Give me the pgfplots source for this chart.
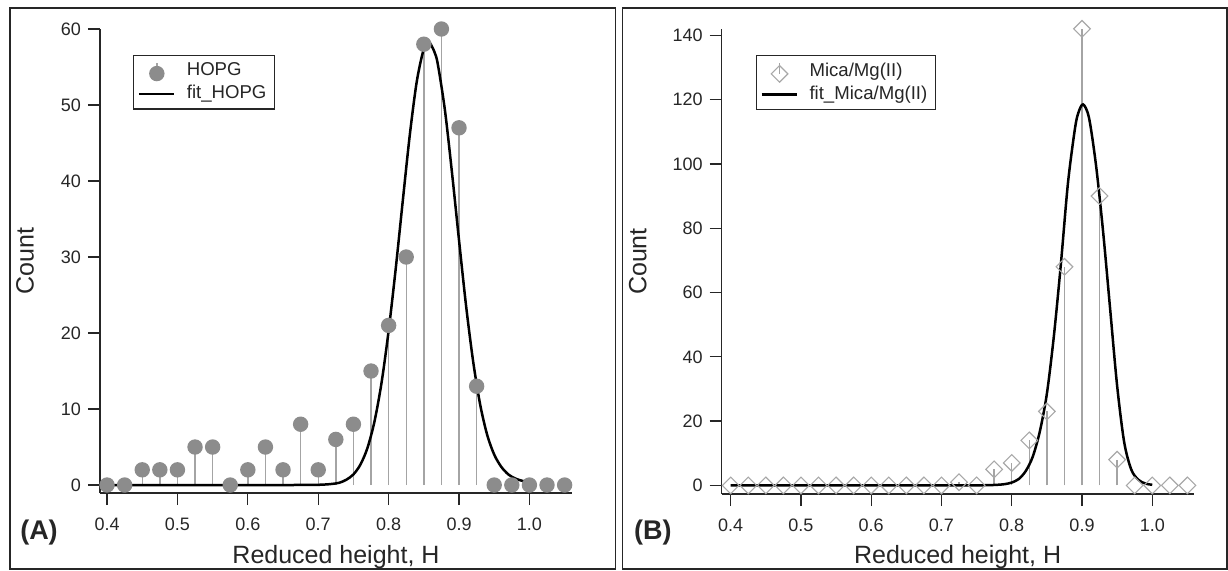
\documentclass[border=0pt]{standalone}
\usepackage{fontspec}
\setmainfont{Liberation Sans}
\usepackage{pgfplots}
\usepackage{pgfplotstable}
\pgfplotsset{compat=1.18}

\definecolor{dotgray}{HTML}{8C8C8C}
\definecolor{stemgray}{HTML}{A4A4A4}
\definecolor{diagray}{HTML}{A8A8A8}
\definecolor{axgray}{HTML}{262626}

% histogram counts, bins of 0.025
\pgfplotstableread{
h count
0.400 0
0.425 0
0.450 2
0.475 2
0.500 2
0.525 5
0.550 5
0.575 0
0.600 2
0.625 5
0.650 2
0.675 8
0.700 2
0.725 6
0.750 8
0.775 15
0.800 21
0.825 30
0.850 58
0.875 60
0.900 47
0.925 13
0.950 0
0.975 0
1.000 0
1.025 0
1.050 0
}\hopg

\pgfplotstableread{
h count
0.400 0
0.425 0
0.450 0
0.475 0
0.500 0
0.525 0
0.550 0
0.575 0
0.600 0
0.625 0
0.650 0
0.675 0
0.700 0
0.725 1
0.750 0
0.775 5
0.800 7
0.825 14
0.850 23
0.875 68
0.900 142
0.925 90
0.950 8
0.975 0
1.000 0
1.025 0
1.050 0
}\mica

% fitted curves
\pgfplotstableread{
h fit
0.40 0
0.50 0
0.60 0
0.65 0
0.68 0.01
0.70 0.03
0.71 0.07
0.72 0.15
0.73 0.3
0.74 0.7
0.75 1.4
0.76 2.7
0.77 4.9
0.78 8.4
0.79 13.5
0.80 20.3
0.81 28.4
0.82 37.3
0.83 46.0
0.84 53.1
0.85 57.4
0.857 58.3
0.865 57.0
0.87 55.3
0.88 49.3
0.89 41.1
0.90 32.2
0.91 23.6
0.92 16.3
0.93 10.6
0.94 6.6
0.95 4.0
0.96 2.4
0.97 1.4
0.98 0.85
0.99 0.55
1.00 0.35
}\hopgfit

\pgfplotstableread{
h fit
0.40 0
0.60 0
0.70 0
0.75 0.02
0.77 0.1
0.78 0.2
0.79 0.4
0.80 0.9
0.81 2.0
0.82 4.5
0.83 9.0
0.84 16.8
0.85 28.5
0.86 46.5
0.87 69.0
0.88 94.0
0.89 111.0
0.895 116.0
0.9016 118.5
0.91 114.3
0.92 99.5
0.93 79.0
0.94 55.0
0.95 31.0
0.96 13.5
0.97 5.0
0.98 1.8
0.99 0.6
1.00 0.2
}\micafit

\pgfplotsset{
  panel/.style={
    scale only axis,
    axis x line*=bottom, axis y line*=left,
    axis line style={axgray, line width=0.7bp, -},
    tick align=outside,
    major tick style={axgray, line width=0.65bp},
    major tick length=6bp,
    xtick={0.4,0.5,0.6,0.7,0.8,0.9,1.0},
    minor tick num=0,
    /pgf/number format/assume math mode=true,
    tick label style={font=\fontsize{9bp}{10.8bp}\selectfont, text=axgray},
    xticklabel style={yshift=-3bp, /pgf/number format/.cd, fixed, fixed zerofill, precision=1},
    yticklabel style={/pgf/number format/.cd, fixed, precision=0},
    label style={font=\fontsize{12.5bp}{15bp}\selectfont, text=axgray},
    xlabel={Reduced height, H},
    ylabel={Count},
    clip=false,
    legend cell align=left,
    legend style={anchor=north west, draw=axgray, line width=0.6bp,
      font=\fontsize{9.3bp}{11bp}\selectfont, text=axgray,
      inner xsep=2bp, inner ysep=1.5bp, row sep=-0.5bp},
    legend image code/.code={\draw[#1] (0bp,0bp) -- (17.5bp,0bp);
      \path[draw=none] (0bp,0bp) -- (22bp,0bp);},
  },
  comb legend/.style={
    legend image code/.code={
      \draw[#1, mark=none] (9bp,-1.5bp) -- (9bp,4bp);
      \draw[#1, only marks] plot coordinates {(9bp,-1.5bp)};
      \path[draw=none] (0bp,0bp) -- (22bp,0bp);}
  },
}

\begin{document}
\begin{tikzpicture}
\useasboundingbox (0,0) rectangle (614bp,-285.5bp);
\draw[axgray, line width=0.75bp] (4.9bp,-4bp) rectangle (307.85bp,-284.5bp);
\draw[axgray, line width=0.75bp] (311.15bp,-4bp) rectangle (613.6bp,-284.5bp);

\begin{axis}[panel,
  at={(50bp,-246.5bp)}, anchor=south west,
  width=236bp, height=232bp,
  xmin=0.390, xmax=1.0605, ymin=-1.05, ymax=60,
  ytick={0,10,20,30,40,50,60},
  xlabel style={at={(axis description cs:0.5,-0.1379)}, anchor=center},
  ylabel style={at={(axis description cs:-0.1589,0.5)}, anchor=center},
  legend style={at={(axis description cs:0.0699,0.944)}},
]
\addplot[ycomb, stemgray, line width=0.7bp, mark=*, mark size=3.5bp,
  mark options={draw=dotgray, fill=dotgray}, comb legend]
  table[x=h, y=count] {\hopg};
\addlegendentry{HOPG}
\addplot[black, line width=1.25bp, smooth] table[x=h, y=fit] {\hopgfit};
\addlegendentry{fit\_HOPG}
\end{axis}

\begin{axis}[panel,
  at={(360.85bp,-247bp)}, anchor=south west,
  width=235.9bp, height=232.5bp,
  xmin=0.3872, xmax=1.0587, ymin=-2.67, ymax=141.95,
  ytick={0,20,40,60,80,100,120,140},
  xlabel style={at={(axis description cs:0.5,-0.1355)}, anchor=center},
  ylabel style={at={(axis description cs:-0.178,0.5)}, anchor=center},
  legend style={at={(axis description cs:0.072,0.944)}},
]
\addplot[ycomb, stemgray, line width=0.7bp, mark=square, mark size=2.95bp,
  mark options={draw=diagray, fill=none, rotate=45, line width=0.55bp}, comb legend]
  table[x=h, y=count] {\mica};
\addlegendentry{Mica/Mg(II)}
\addplot[black, line width=1.25bp, smooth] table[x=h, y=fit] {\micafit};
\addlegendentry{fit\_Mica/Mg(II)}
\end{axis}

\node[font=\fontsize{13.5bp}{16bp}\selectfont\bfseries, text=axgray] at (19.5bp,-266.5bp) {(A)};
\node[font=\fontsize{13.5bp}{16bp}\selectfont\bfseries, text=axgray] at (326.4bp,-266.5bp) {(B)};
\end{tikzpicture}
\end{document}
